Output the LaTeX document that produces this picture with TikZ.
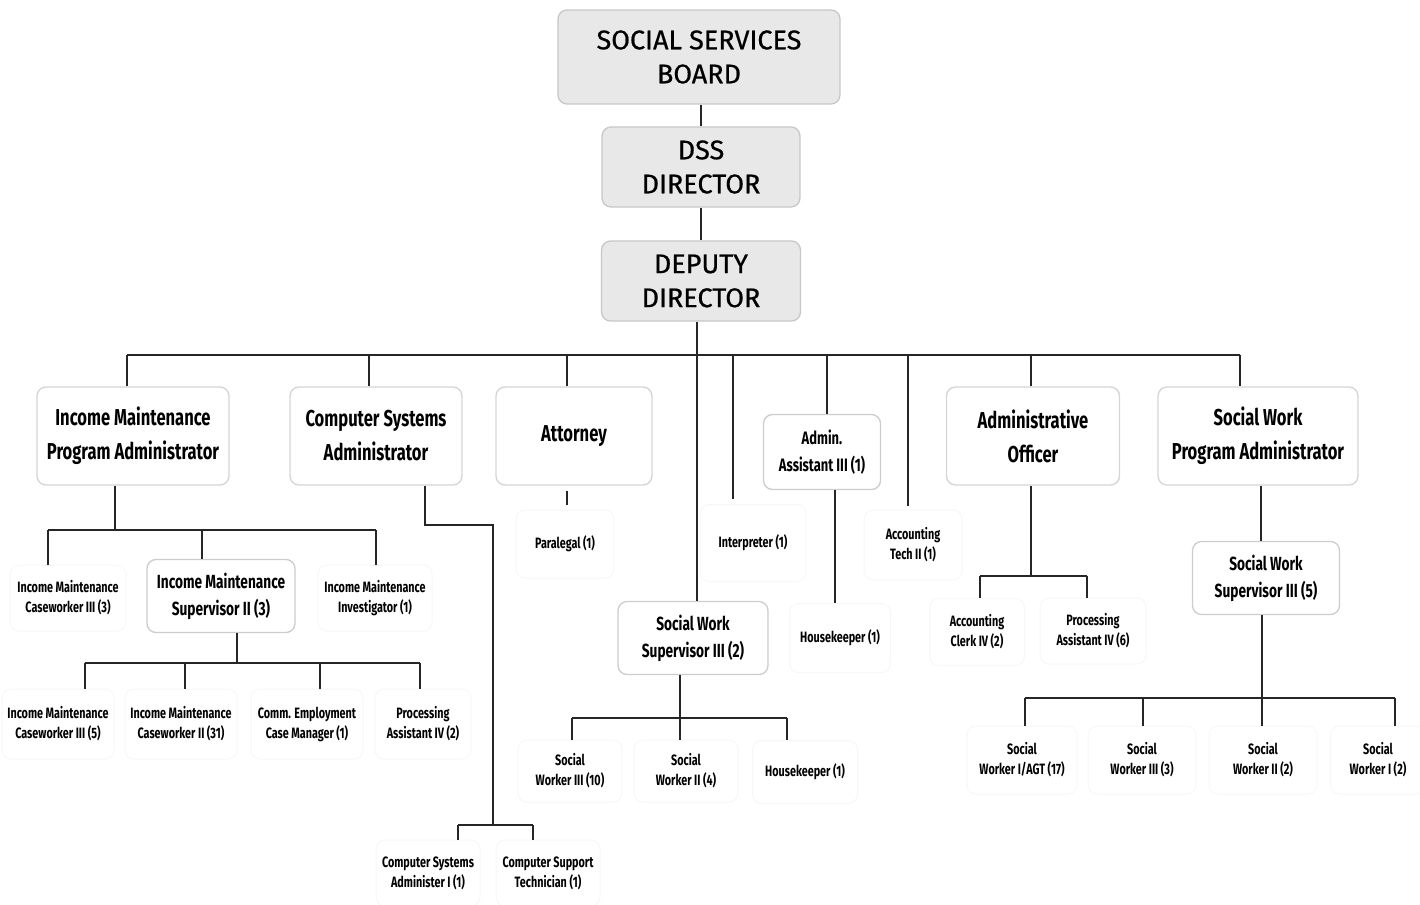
\documentclass[tikz,border=0pt]{standalone}
\usepackage{fontspec}
\usetikzlibrary{calc}
\newfontfamily\topf[FakeBold=0.6]{Fira Sans}
\newfontfamily\condf[FakeStretch=0.72]{Fira Sans}
\tikzset{
  headbox/.style={draw=black!22, fill=black!9, rounded corners=9pt, line width=1.3pt,
    font=\topf\fontsize{27}{34}\selectfont, align=center, inner sep=0pt},
  unitbox/.style={draw=black!16, fill=white, rounded corners=9pt, line width=1.4pt,
    font=\condf\bfseries\fontsize{23}{34}\selectfont, align=center, inner sep=0pt},
  supbox/.style={draw=black!20, fill=white, rounded corners=9pt, line width=1.3pt,
    font=\condf\bfseries\fontsize{19}{27}\selectfont, align=center, inner sep=0pt},
  leafbox/.style={draw=black!3, fill=white, rounded corners=9pt, line width=1pt,
    font=\condf\bfseries\fontsize{15}{20}\selectfont, align=center, inner sep=0pt},
  link/.style={draw=black!85, line width=1.5pt},
}
\begin{document}
\begin{tikzpicture}[x=1pt,y=-1pt]
\useasboundingbox (0,0) rectangle (1420,904);

% ---- top of the hierarchy ----
\node[headbox, minimum width=282, minimum height=94] (board) at (699,57) {SOCIAL SERVICES\\BOARD};
\node[headbox, minimum width=198, minimum height=80] (dss) at (701,167) {DSS\\DIRECTOR};
\node[headbox, minimum width=199, minimum height=80] (dep) at (701,281) {DEPUTY\\DIRECTOR};

% ---- divisions ----
\node[unitbox, minimum width=192, minimum height=98] (impa) at (133,436) {Income Maintenance\\Program Administrator};
\node[unitbox, minimum width=172, minimum height=98] (csa) at (376,436) {Computer Systems\\Administrator};
\node[unitbox, minimum width=156, minimum height=98] (atty) at (574,436) {Attorney};
\node[supbox, minimum width=117, minimum height=75, font=\condf\bfseries\fontsize{18}{27}\selectfont] (asst) at (822,452) {Admin.\\Assistant III (1)};
\node[unitbox, minimum width=173, minimum height=98] (aao) at (1033,436) {Administrative\\Officer};
\node[unitbox, minimum width=200, minimum height=98] (swpa) at (1258,436) {Social Work\\Program Administrator};

% ---- single positions ----
\node[leafbox, minimum width=106, minimum height=77] (interp) at (753,543) {Interpreter (1)};
\node[leafbox, minimum width=98, minimum height=70] (acct) at (913,545) {Accounting\\Tech II (1)};
\node[leafbox, minimum width=98, minimum height=68] (para) at (565,544) {Paralegal (1)};
\node[leafbox, minimum width=101, minimum height=69] (hk1) at (840,638) {Housekeeper (1)};

% ---- income maintenance ----
\node[leafbox, minimum width=116, minimum height=66] (imc3) at (68,598) {Income Maintenance\\Caseworker III (3)};
\node[supbox, minimum width=148, minimum height=73] (ims) at (221,596) {Income Maintenance\\Supervisor II (3)};
\node[leafbox, minimum width=114, minimum height=66] (imi) at (375,598) {Income Maintenance\\Investigator (1)};
\node[leafbox, minimum width=112, minimum height=70] (imc3b) at (58,724) {Income Maintenance\\Caseworker III (5)};
\node[leafbox, minimum width=112, minimum height=70] (imc2) at (181,724) {Income Maintenance\\Caseworker II (31)};
\node[leafbox, minimum width=112, minimum height=70] (cecm) at (307,724) {Comm. Employment\\Case Manager (1)};
\node[leafbox, minimum width=96, minimum height=70] (pa2) at (423,724) {Processing\\Assistant IV (2)};

% ---- computer systems ----
\node[leafbox, minimum width=104, minimum height=66] (csa1) at (428,873) {Computer Systems\\Administer I (1)};
\node[leafbox, minimum width=104, minimum height=66] (cst) at (548,873) {Computer Support\\Technician (1)};

% ---- social work, deputy line ----
\node[supbox, minimum width=150, minimum height=73] (sws2) at (693,638) {Social Work\\Supervisor III (2)};
\node[leafbox, minimum width=104, minimum height=62] (sw3a) at (570,771) {Social\\Worker III (10)};
\node[leafbox, minimum width=104, minimum height=62] (sw2a) at (686,771) {Social\\Worker II (4)};
\node[leafbox, minimum width=105, minimum height=63] (hk2) at (805,772) {Housekeeper (1)};

% ---- administrative officer ----
\node[leafbox, minimum width=95, minimum height=67] (acl) at (977,632) {Accounting\\Clerk IV (2)};
\node[leafbox, minimum width=106, minimum height=66] (pa6) at (1093,631) {Processing\\Assistant IV (6)};

% ---- social work program ----
\node[supbox, minimum width=147, minimum height=73] (sws5) at (1266,578) {Social Work\\Supervisor III (5)};
\node[leafbox, minimum width=110, minimum height=68] (swagt) at (1022,760) {Social\\Worker I/AGT (17)};
\node[leafbox, minimum width=108, minimum height=68] (sw3b) at (1142,760) {Social\\Worker III (3)};
\node[leafbox, minimum width=108, minimum height=68] (sw2b) at (1263,760) {Social\\Worker II (2)};
\node[leafbox, minimum width=95, minimum height=68] (sw1b) at (1378,760) {Social\\Worker I (2)};

% ================= connectors =================
\draw[link] (dss.north |- board.south) -- (dss.north);
\draw[link] (dss.south) -- (dep.north);
\coordinate (dv) at (697,0);
\draw[link] (dv |- dep.south) -- (dv |- sws2.north);

% main bus
\coordinate (busL) at (127,355);
\coordinate (busR) at (1240,355);
\draw[link] (busL) -- (busR);
\draw[link] (busL) -- (busL |- impa.north);
\coordinate (b2) at (369,355);  \draw[link] (b2) -- (b2 |- csa.north);
\coordinate (b3) at (567,355);  \draw[link] (b3) -- (b3 |- atty.north);
\coordinate (b4) at (733,355);  \draw[link] (b4) -- ($(b4 |- interp.north)+(0,-5)$);
\coordinate (b5) at (827,355);  \draw[link] (b5) -- (b5 |- asst.north);
\coordinate (b6) at (908,355);  \draw[link] (b6) -- ($(b6 |- acct.north)+(0,-4)$);
\coordinate (b7) at (1031,355); \draw[link] (b7) -- (b7 |- aao.north);
\draw[link] (busR) -- (busR |- swpa.north);

% income maintenance program
\coordinate (imT) at (115,530);
\coordinate (imL) at (48,530);
\coordinate (imM) at (202,530);
\coordinate (imR) at (376,530);
\draw[link] (imT |- impa.south) -- (imT);
\draw[link] (imL) -- (imR);
\draw[link] (imL) -- (imL |- imc3.north);
\draw[link] (imM) -- (imM |- ims.north);
\draw[link] (imR) -- (imR |- imi.north);

% income maintenance supervisor
\coordinate (isT) at (237,663);
\coordinate (isL) at (85,663);
\coordinate (is2) at (185,663);
\coordinate (is3) at (320,663);
\coordinate (isR) at (420,663);
\draw[link] (isT |- ims.south) -- (isT);
\draw[link] (isL) -- (isR);
\draw[link] (isL) -- (isL |- imc3b.north);
\draw[link] (is2) -- (is2 |- imc2.north);
\draw[link] (is3) -- (is3 |- cecm.north);
\draw[link] (isR) -- (isR |- pa2.north);

% computer systems
\coordinate (csA) at (425,525);
\coordinate (csB) at (493,525);
\coordinate (csC) at (493,825);
\coordinate (csL) at (458,825);
\coordinate (csR) at (533,825);
\draw[link] (csA |- csa.south) -- (csA) -- (csB) -- (csC);
\draw[link] (csL) -- (csR);
\draw[link] (csL) -- (csL |- csa1.north);
\draw[link] (csR) -- (csR |- cst.north);

% attorney and admin assistant
\coordinate (atX) at (567,0);
\draw[link] ($(atX |- atty.south)+(0,5)$) -- ($(atX |- para.north)+(0,-5)$);
\coordinate (aaX) at (835,0);
\draw[link] (aaX |- asst.south) -- (aaX |- hk1.north);

% social work supervisor (2)
\coordinate (s2T) at (680,718);
\coordinate (s2L) at (572,718);
\coordinate (s2R) at (787,718);
\draw[link] (s2T |- sws2.south) -- (s2T);
\draw[link] (s2L) -- (s2R);
\draw[link] (s2L) -- (s2L |- sw3a.north);
\draw[link] (s2T) -- (s2T |- sw2a.north);
\draw[link] (s2R) -- (s2R |- hk2.north);

% administrative officer
\coordinate (aoT) at (1031,576);
\coordinate (aoL) at (980,576);
\coordinate (aoR) at (1087,576);
\draw[link] (aoT |- aao.south) -- (aoT);
\draw[link] (aoL) -- (aoR);
\draw[link] (aoL) -- (aoL |- acl.north);
\draw[link] (aoR) -- (aoR |- pa6.north);

% social work program administrator
\coordinate (spX) at (1261,0);
\draw[link] (spX |- swpa.south) -- (spX |- sws5.north);
\coordinate (s5T) at (1262,698);
\coordinate (s5L) at (1025,698);
\coordinate (s5M) at (1143,698);
\coordinate (s5R) at (1395,698);
\draw[link] (s5T |- sws5.south) -- (s5T);
\draw[link] (s5L) -- (s5R);
\draw[link] (s5L) -- (s5L |- swagt.north);
\draw[link] (s5M) -- (s5M |- sw3b.north);
\draw[link] (s5T) -- (s5T |- sw2b.north);
\draw[link] (s5R) -- (s5R |- sw1b.north);
\end{tikzpicture}
\end{document}
